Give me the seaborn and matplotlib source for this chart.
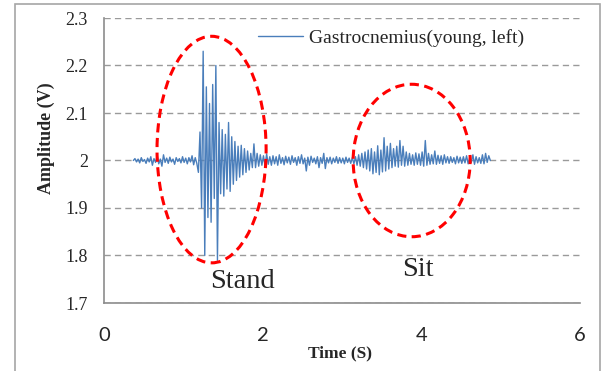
import numpy as np
import seaborn as sns
import matplotlib.pyplot as plt
from matplotlib.patches import Ellipse, Rectangle

# EMG trace: first sample at 0.37 s, one every 0.02 s
t_start = 0.37
t_step = 0.02
amplitude_v = [
    2.000, 2.004, 1.997, 2.003, 1.995, 2.006, 1.998, 2.002, 1.994, 2.005,
    1.997, 2.008, 1.990, 2.004, 1.996, 2.010, 1.993, 2.003, 1.988, 2.012,
    1.996, 2.005, 1.994, 2.007, 1.997, 2.003, 1.992, 2.006, 1.998, 2.004,
    1.995, 2.008, 1.996, 2.005, 1.993, 2.006, 1.997, 2.010, 1.991, 2.006,
    1.994, 1.975, 2.060, 1.900, 2.230, 1.800, 2.155, 1.880, 2.120, 1.870,
    2.160, 1.920, 2.200, 1.790, 2.080, 1.930, 2.065, 1.925, 2.055, 1.940,
    2.080, 1.935, 2.050, 1.950, 2.040, 1.958, 2.030, 1.965, 2.032, 1.970,
    2.025, 1.975, 2.020, 1.980, 2.015, 1.985, 2.035, 1.985, 2.015, 1.988,
    2.012, 1.990, 2.010, 1.988, 2.014, 1.992, 2.008, 1.990, 2.010, 1.993,
    2.008, 1.990, 2.012, 1.994, 2.006, 1.991, 2.009, 1.995, 2.007, 1.992,
    2.010, 1.996, 2.006, 1.990, 2.008, 1.994, 2.012, 1.993, 2.005, 1.978,
    2.007, 1.990, 2.009, 1.996, 2.005, 1.993, 2.008, 1.985, 2.006, 1.994,
    2.015, 1.983, 2.006, 1.995, 2.007, 1.993, 2.005, 1.996, 2.008, 1.994,
    2.006, 1.995, 2.005, 1.993, 2.007, 1.996, 2.005, 1.994, 2.006, 1.993,
    2.008, 1.990, 2.012, 1.988, 2.015, 1.985, 2.018, 1.982, 2.022, 1.978,
    2.025, 1.972, 2.018, 1.975, 2.031, 1.970, 2.022, 1.976, 2.048, 1.978,
    2.030, 1.982, 2.036, 1.985, 2.025, 1.988, 2.030, 1.986, 2.042, 1.990,
    2.030, 1.988, 2.018, 1.990, 2.015, 1.992, 2.012, 1.990, 2.016, 1.992,
    2.014, 1.990, 2.018, 1.988, 2.042, 1.990, 2.015, 1.992, 2.012, 1.993,
    2.020, 1.992, 2.011, 1.994, 2.010, 1.992, 2.012, 1.995, 2.008, 1.994,
    2.008, 1.996, 2.006, 1.993, 2.009, 1.995, 2.007, 1.994, 2.008, 1.995,
    2.010, 1.993, 2.006, 1.996, 2.012, 1.992, 2.008, 1.995, 2.006, 1.994,
    2.012, 1.993, 2.015, 1.996, 2.010, 2.000,
]
time_s = t_start + t_step * np.arange(len(amplitude_v))

series_name = "Gastrocnemius(young, left)"
x_ticks = [0, 2, 4, 6]
y_ticks = [1.7, 1.8, 1.9, 2.0, 2.1, 2.2, 2.3]
y_tick_labels = ["1.7", "1.8", "1.9", "2", "2.1", "2.2", "2.3"]
region_labels = ["Stand", "Sit"]

sns.set_style("white")
plt.rcParams["font.family"] = ["Liberation Serif", "DejaVu Serif"]

W, H = 602, 371
fig = plt.figure(figsize=(W / 100, H / 100), dpi=100)
ax = fig.add_axes([104 / W, 1 - 303 / H, 476 / W, 285 / H])

sns.lineplot(x=time_s, y=amplitude_v, ax=ax, color="#4A7EBB", linewidth=1.0,
             label=series_name, estimator=None, sort=False)

ax.set_xlim(0, 6)
ax.set_ylim(1.7, 2.3)
ax.set_xticks(x_ticks)
ax.set_xticklabels([str(v) for v in x_ticks])
ax.set_yticks(y_ticks)
ax.set_yticklabels(y_tick_labels)
ax.set_xlabel("")
ax.set_ylabel("")

ax.grid(axis="y", color="#9a9a9a", linestyle=(0, (4.5, 3)), linewidth=1.0)
ax.grid(axis="x", visible=False)
for side in ["top", "right"]:
    ax.spines[side].set_visible(False)
for side in ["left", "bottom"]:
    ax.spines[side].set_color("#8c8c8c")
    ax.spines[side].set_linewidth(1.2)

ax.tick_params(axis="x", direction="out", length=5, width=1, color="#8c8c8c",
               pad=12, labelsize=14.5)
ax.tick_params(axis="y", direction="out", length=4.5, width=1, color="#8c8c8c",
               pad=7, labelsize=13)
for lbl in ax.get_xticklabels():
    lbl.set_fontfamily("Lato")

# dashed red ellipses marking the two movements
ax.add_patch(Ellipse((1.356, 2.023), 1.375, 0.477, fill=False, edgecolor="red",
                     linewidth=2.2, linestyle=(0, (3, 1.8)), zorder=3))
ax.add_patch(Ellipse((3.878, 2.0), 1.475, 0.321, fill=False, edgecolor="red",
                     linewidth=2.2, linestyle=(0, (3, 1.8)), zorder=3))
ax.text(1.74, 1.746, region_labels[0], fontsize=20.5, ha="center", va="center")
ax.text(3.96, 1.77, region_labels[1], fontsize=20.5, ha="center", va="center")

ax.legend(loc="center left", bbox_to_anchor=(258 / W, 1 - 38 / H),
          bbox_transform=fig.transFigure, frameon=False, fontsize=14,
          handlelength=2.3, handletextpad=0.3, borderpad=0, borderaxespad=0)

fig.text(340 / W, 1 - 353 / H, "Time (S)", fontsize=12.5, fontweight="bold",
         ha="center", va="center")
fig.text(46 / W, 1 - 138 / H, "Amplitude (V)", fontsize=13, fontweight="bold",
         rotation=90, ha="center", va="center")

# grey frame around the whole chart
fig.add_artist(Rectangle((15 / W, -0.02), 585 / W, 1 - 4 / H + 0.02,
                         transform=fig.transFigure, fill=False,
                         edgecolor="#a6a6a6", linewidth=1.2))

fig.savefig("out.png", dpi=100)
